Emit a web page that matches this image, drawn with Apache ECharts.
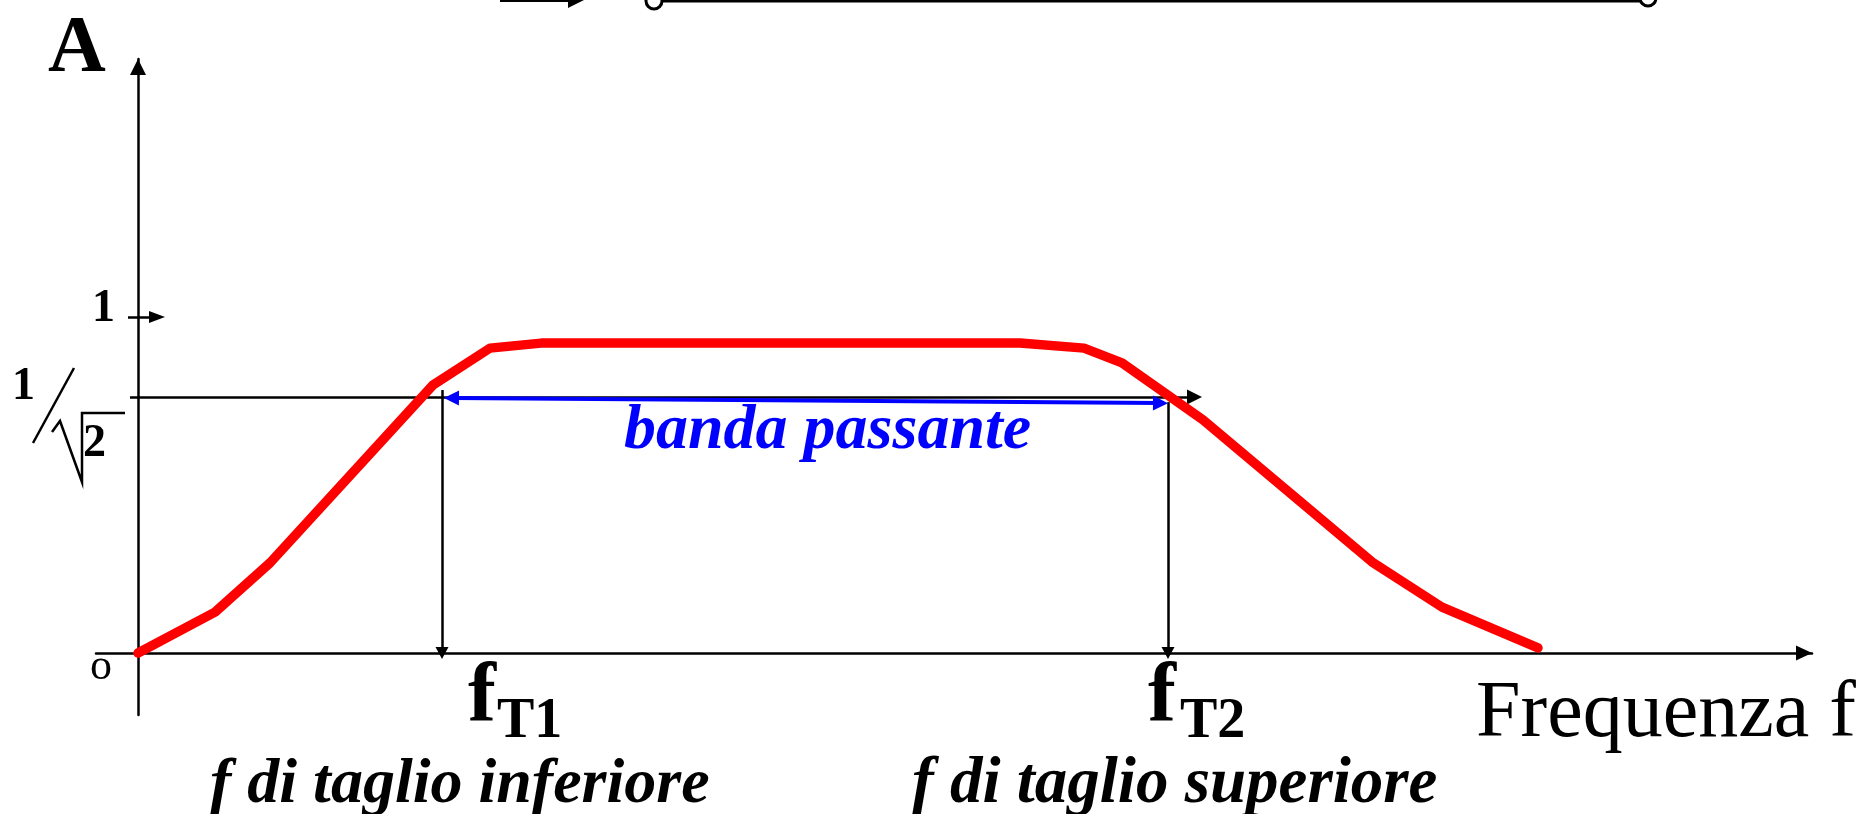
<!DOCTYPE html>
<html>
<head>
<meta charset="utf-8">
<script src="https://cdn.jsdelivr.net/npm/echarts@6/dist/echarts.min.js"></script>
<style>
  html, body { margin: 0; padding: 0; background: #fff; }
  #chart { width: 1866px; height: 814px; }
</style>
</head>
<body>
<div id="chart"></div>
<script>
// amplitude curve (x: frequency units, y: amplitude as drawn)
const freq = [0, 7.7, 13.2, 29.5, 35.2, 40.3, 88.2, 94.6, 98.4, 106.5, 123.4, 130.4, 140];
const gain = [0, 0.122, 0.269, 0.800, 0.910, 0.925, 0.925, 0.910, 0.866, 0.696, 0.272, 0.137, 0.015];

// cut-off frequencies and levels
const cutFreq = [30.4, 103.0];
const cutLevel = 0.764;
const unitLevel = 1.003;
const bandLevel = [0.761, 0.746];
const bandFreq = [31.35, 102.25];

// axis extents
const xRange = [-4.2, 167.4];
const yRange = [-0.185, 1.773];

const serif = '"Liberation Serif", "Times New Roman", serif';

let chart = echarts.init(document.getElementById('chart'));

let curve = freq.map((f, i) => [f, gain[i]]);

function txt(text, x, y, font, color, align) {
  return {
    type: 'text',
    x: x,
    y: y,
    silent: true,
    style: {
      text: text,
      font: font,
      fill: color || '#000',
      textAlign: align || 'left',
      textVerticalAlign: 'middle'
    }
  };
}

let option = {
  animation: false,
  backgroundColor: '#fff',
  grid: { left: 96, right: 54, top: 59, bottom: 99, outerBoundsMode: 'none' },
  xAxis: {
    type: 'value',
    min: xRange[0],
    max: xRange[1],
    axisLine: {
      onZero: true,
      symbol: ['none', 'triangle'],
      symbolSize: [15, 16],
      symbolOffset: [0, -8],
      lineStyle: { color: '#000', width: 2.5 }
    },
    axisTick: { show: false },
    axisLabel: { show: false },
    splitLine: { show: false }
  },
  yAxis: {
    type: 'value',
    min: yRange[0],
    max: yRange[1],
    axisLine: {
      show: true,
      onZero: true,
      symbol: ['none', 'triangle'],
      symbolSize: [16, 16],
      symbolOffset: [0, -8],
      lineStyle: { color: '#000', width: 2.5 }
    },
    axisTick: { show: false },
    axisLabel: { show: false },
    splitLine: { show: false }
  },
  series: [
    {
      name: 'guide',
      type: 'line',
      data: [],
      silent: true,
      markLine: {
        silent: true,
        z: 1,
        animation: false,
        label: { show: false },
        emphasis: { disabled: true },
        lineStyle: { color: '#000', width: 2.5, type: 'solid' },
        data: [
          [
            { coord: [-0.8, cutLevel], symbol: 'none' },
            { coord: [105.65, cutLevel], symbol: 'triangle', symbolSize: [15, 15] }
          ],
          [
            { coord: [-1.0, unitLevel], symbol: 'none' },
            { coord: [1.9, unitLevel], symbol: 'triangle', symbolSize: [12, 16] }
          ],
          [
            { coord: [cutFreq[0], 0.785], symbol: 'none' },
            { coord: [cutFreq[0], 0], symbol: 'triangle', symbolSize: [13, 12] }
          ],
          [
            { coord: [cutFreq[1], 0.749], symbol: 'none' },
            { coord: [cutFreq[1], 0], symbol: 'triangle', symbolSize: [13, 12] }
          ]
        ]
      }
    },
    {
      name: 'banda',
      type: 'line',
      data: [],
      silent: true,
      markLine: {
        silent: true,
        z: 1,
        animation: false,
        label: { show: false },
        emphasis: { disabled: true },
        lineStyle: { color: '#0000ff', width: 4, type: 'solid' },
        data: [
          [
            { coord: [bandFreq[0], bandLevel[0]], symbol: 'triangle', symbolSize: [15, 15] },
            { coord: [bandFreq[1], bandLevel[1]], symbol: 'triangle', symbolSize: [15, 15] }
          ]
        ]
      }
    },
    {
      name: 'A',
      type: 'line',
      z: 3,
      data: curve,
      symbol: 'none',
      silent: true,
      lineStyle: { color: '#ff0000', width: 9.5, cap: 'round', join: 'round' }
    }
  ],
  graphic: [
    // cropped pieces of the circuit above
    { type: 'line', silent: true, shape: { x1: 500, y1: 0, x2: 572, y2: 0 }, style: { stroke: '#000', lineWidth: 4 } },
    { type: 'polygon', silent: true, shape: { points: [[568, -8], [584, 0], [568, 8]] }, style: { fill: '#000' } },
    { type: 'line', silent: true, shape: { x1: 662, y1: 1, x2: 1640, y2: 1 }, style: { stroke: '#000', lineWidth: 3 } },
    { type: 'circle', silent: true, shape: { cx: 654, cy: 1, r: 8 }, style: { fill: '#fff', stroke: '#000', lineWidth: 3 } },
    { type: 'circle', silent: true, shape: { cx: 1648, cy: -2, r: 8 }, style: { fill: '#fff', stroke: '#000', lineWidth: 3 } },

    // 1 / sqrt(2) label
    { type: 'line', silent: true, shape: { x1: 33, y1: 443, x2: 74, y2: 368 }, style: { stroke: '#000', lineWidth: 2.5 } },
    { type: 'polyline', silent: true, shape: { points: [[52, 432], [60, 421], [82, 482], [82, 413], [125, 413]] }, style: { stroke: '#000', lineWidth: 2.5, fill: null } },
    txt('1', 12, 387, 'bold 46px ' + serif),
    txt('2', 83, 444, 'bold 46px ' + serif),

    txt('A', 48, 50, 'bold 80px ' + serif),
    txt('1', 115, 309, 'bold 46px ' + serif, '#000', 'right'),
    txt('o', 101, 667, '44px ' + serif, '#000', 'center'),

    txt('f', 468, 699, 'bold 84px ' + serif),
    txt('T1', 497, 723, 'bold 56px ' + serif),
    txt('f', 1148, 699, 'bold 84px ' + serif),
    txt('T2', 1180, 723, 'bold 56px ' + serif),

    txt('Frequenza f', 1476, 715, '80px ' + serif),
    txt('banda passante', 624, 431, 'italic bold 64px ' + serif, '#0000ff'),
    txt('f di taglio inferiore', 210, 785, 'italic bold 64px ' + serif),
    txt('f di taglio superiore', 912, 785, 'italic bold 65px ' + serif)
  ]
};

chart.setOption(option);
</script>
</body>
</html>
